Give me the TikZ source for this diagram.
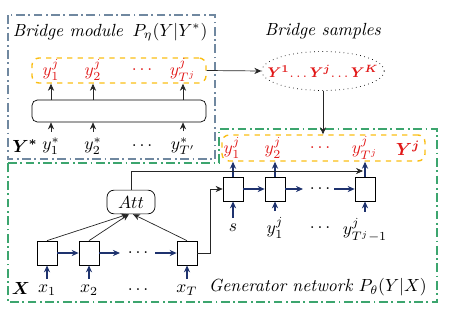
\documentclass[tikz,border=0pt]{standalone}
\usetikzlibrary{arrows.meta, positioning, shapes.geometric, calc}
\usepackage{amsmath}
\usepackage{bm}

\definecolor{slateframe}{RGB}{112,136,160}
\definecolor{greenframe}{RGB}{60,165,110}
\definecolor{goldseq}{RGB}{250,190,20}
\definecolor{redlbl}{RGB}{225,25,25}
\definecolor{navyarr}{RGB}{30,50,110}

\begin{document}
\begin{tikzpicture}[
    x=0.02cm, y=-0.02cm,
    cell/.style={draw, fill=white, minimum width=0.4cm, minimum height=0.48cm,
                 inner sep=0pt},
    seqbox/.style={draw=goldseq, dashed, thick, rounded corners=4pt,
                   minimum width=3.48cm, minimum height=0.5cm},
    frame/.style={thick, dash pattern={on 5pt off 2pt on 1pt off 2pt}},
    red lbl/.style={text=redlbl},
    flow/.style={->, navyarr, thick},
    link/.style={->, black!85},
    >={Stealth[length=4pt, width=3.5pt]}
  ]
  \useasboundingbox (0,0) rectangle (449,321);

  % frames
  \draw[frame, slateframe] (8,15) rectangle (215,159);
  \draw[frame, greenframe] (8,163) -- (219,163) -- (219,129) -- (437,129)
    -- (437,302) -- (8,302) -- cycle;

  % bridge module
  \node (btitle) at (68,32) {\textit{Bridge module}};
  \node (bprob) at (170,32) {$P_\eta(Y|Y^*)$};

  \node[seqbox] (bseq) at (119,70.5) {};
  \node[red lbl] (by1) at (51,70) {$y^j_1$};
  \node[red lbl] (by2) at (93,70) {$y^j_2$};
  \node[red lbl] (byd) at (142,70) {$\ldots$};
  \node[red lbl] (byT) at (183,70) {$y^j_{T^j}$};

  \node[draw, rounded corners=3pt, minimum width=3.48cm, minimum height=0.44cm]
    (benc) at (119,111) {};

  \node (ystar) at (25,146) {$\bm{Y^*}$};
  \node (ys1) at (51,146) {$y^*_1$};
  \node (ys2) at (93,146) {$y^*_2$};
  \node (ysd) at (142,146) {$\ldots$};
  \node (ysT) at (183,146) {$y^*_{T'}$};

  \foreach \n in {1,2,T} {
    \draw[link] (ys\n) -- (ys\n |- benc.south);
    \draw[link] (ys\n |- benc.north) -- (ys\n |- bseq.south);
  }

  % bridge samples
  \node (stitle) at (323,31) {\textit{Bridge samples}};
  \node[draw, dotted, ellipse, minimum width=2.45cm, minimum height=0.78cm]
    (samples) at (323,71) {};
  \node[red lbl, font=\footnotesize] (samplesy) at (samples)
    {$\bm{Y^1}\!\ldots\bm{Y^j}\!\ldots\bm{Y^K}$};
  \draw[link] (bseq.east) -- (samples.west);

  % generator network
  \node[seqbox, minimum width=4.06cm, minimum height=0.52cm] (gseq)
    at (323.5,148) {};
  \node[red lbl] (gy1) at (232,148) {$y^j_1$};
  \node[red lbl] (gy2) at (273,148) {$y^j_2$};
  \node[red lbl] (gyd) at (320,148) {$\ldots$};
  \node[red lbl] (gyT) at (365,148) {$y^j_{T^j}$};
  \node[red lbl] (gY) at (408,148) {$\bm{Y^j}$};
  \draw[link] (samples.south) -- (samples.south |- gseq.north);

  % encoder
  \node[cell] (e1) at (47,253) {};
  \node[cell] (e2) at (89,253) {};
  \node (ed) at (138,253) {$\ldots$};
  \node[cell] (e3) at (187,253) {};
  \coordinate (e2r) at (120,253);
  \coordinate (e3l) at (155,253);

  \node (xX) at (21,288) {$\bm{X}$};
  \node (x1) at (47,290) {$x_1$};
  \node (x2) at (89,290) {$x_2$};
  \node (xd) at (138,290) {$\ldots$};
  \node (x3) at (187,290) {$x_T$};

  \draw[flow] (e1) -- (e2);
  \draw[flow] (e2) -- (e2r);
  \draw[flow] (e3l) -- (e3);
  \foreach \n in {1,2,3}
    \draw[flow] (x\n) -- (e\n);

  \node[draw, rounded corners=4pt, minimum width=0.96cm, minimum height=0.46cm]
    (att) at (131,202) {$Att$};
  \draw[link] (e1.north) -- ($(att.south)+(-3,0)$);
  \draw[link] (e2.north) -- ($(att.south)+(-2,0)$);
  \draw[link] (e3.north) -- ($(att.south)+(2,0)$);

  % decoder
  \node[cell] (d1) at (233,189) {};
  \node[cell] (d2) at (275,189) {};
  \node (dd) at (320,189) {$\ldots$};
  \node[cell] (d3) at (365,189) {};
  \coordinate (d2r) at (303,189);
  \coordinate (d3l) at (334,189);

  \node (s0) at (233,228) {$s$};
  \node (s1) at (275,228) {$y^j_1$};
  \node (sd) at (320,228) {$\ldots$};
  \node (s3) at (365,230) {$y^j_{T^j-1}$};

  \draw[flow] (d1) -- (d2);
  \draw[flow] (d2) -- (d2r);
  \draw[flow] (d3l) -- (d3);
  \draw[flow] (s0) -- (d1);
  \draw[flow] (s1) -- (d2);
  \draw[flow] (s3.north) -- (d3);
  \foreach \n in {1,2,3}
    \draw[flow] (d\n.north) -- (d\n.north |- gseq.south);

  \coordinate (ctx) at (363,171);
  \draw[link] (att.north) |- (ctx);
  \draw[link] (e3.east) -- ++(13,0) |- (d1.west);

  \node[anchor=east] (gtitle) at (433,287)
    {\textit{Generator network} $P_\theta(Y|X)$};
\end{tikzpicture}
\end{document}
